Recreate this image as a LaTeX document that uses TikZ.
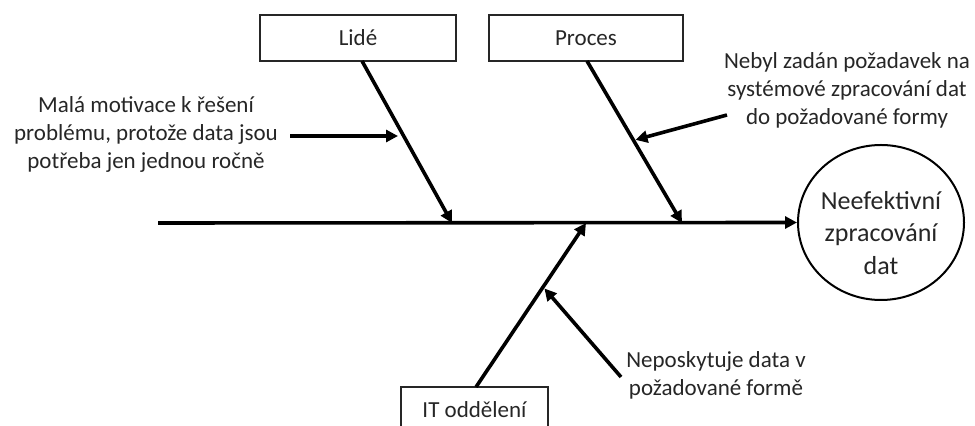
\documentclass[tikz,border=0pt]{standalone}
\usepackage{fontspec}
\setmainfont{Carlito}
\usetikzlibrary{arrows.meta,calc,shapes.geometric}

\begin{document}
\begin{tikzpicture}[x=0.5pt,y=-0.5pt,
  causebox/.style={draw=black!85, line width=0.75pt, minimum height=23pt,
    inner sep=0pt, font=\fontsize{11.5}{14}\selectfont, text=black!85},
  note/.style={align=center, inner sep=0pt,
    font=\fontsize{11.5}{14}\selectfont, text=black!85},
  bone/.style={line width=1.8pt, -{Triangle[length=6pt,width=6pt]}},
  twig/.style={line width=1.8pt, -{Triangle[length=6pt,width=6pt]}, shorten >=1pt}
]
\clip (0,0) rectangle (975,426);

% cause categories
\node[causebox, minimum width=98pt] (lide)   at (358,38)    {Lidé};
\node[causebox, minimum width=97pt] (proces) at (586,38)    {Proces};
\node[causebox, minimum width=73.5pt] (it)   at (474.5,410) {IT oddělení};

% effect
\node[ellipse, draw=black, line width=1pt, minimum width=83pt,
      minimum height=77.5pt, inner sep=0pt] (effect) at (881,222.5) {};
\node[align=center, inner sep=0pt, font=\fontsize{13}{16.25}\selectfont,
      text=black!85] (effectlabel) at (881,233)
  {Neefektivní\\zpracování\\dat};

% spine
\coordinate (tail) at (158,223);
\draw[bone] (tail) -- (effect.west);

% main bones
\coordinate (lideTop) at (362,61);
\coordinate (lideJ)   at (452,223);
\coordinate (procTop) at (587,61);
\coordinate (procJ)   at (682,223);
\coordinate (itBot)   at (476,387);
\coordinate (itJ)     at (586,223);
\draw[bone] (lideTop) -- (lideJ);
\draw[bone] (procTop) -- (procJ);
\draw[bone] (itBot) -- (itJ);

% sub-causes
\node[note] (motivace) at (146,134)
  {Malá motivace k řešení\\problému, protože data jsou\\potřeba jen jednou ročně};
\node[note] (pozadavek) at (847,90)
  {Nebyl zadán požadavek na\\systémové zpracování dat\\do požadované formy};
\node[note] (data) at (716,375)
  {Neposkytuje data v\\požadované formě};

\coordinate (motStart) at (290,136);
\coordinate (lideHit)  at ($(lideTop)!0.463!(lideJ)$);
\draw[twig] (motStart) -- (lideHit -| 400,0);

\coordinate (pozStart) at (727,115);
\coordinate (procHit)  at ($(procTop)!0.49!(procJ)$);
\draw[twig] (pozStart) -- (procHit);

\coordinate (dataStart) at (621,377);
\coordinate (itHit)     at ($(itBot)!0.61!(itJ)$);
\draw[twig] (dataStart) -- (itHit);
\end{tikzpicture}
\end{document}
